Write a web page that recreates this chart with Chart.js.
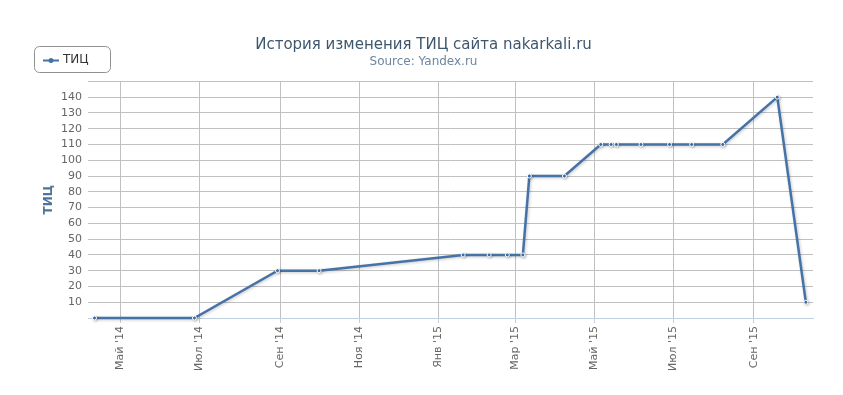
<!DOCTYPE html>
<html>
<head>
<meta charset="utf-8">
<script src="https://cdn.jsdelivr.net/npm/chart.js@4/dist/chart.umd.min.js"></script>
<style>
    body { margin: 0; background: #fff; }
    #wrap { width: 843px; height: 395px; }
</style>
</head>
<body>
<div id="wrap"><canvas id="ticChart" width="843" height="395"></canvas></div>
<script>
// Даты замеров ТИЦ и значения
const pointDates = ['2014-04-11', '2014-06-27', '2014-08-30', '2014-10-01', '2015-01-20',
    '2015-02-09', '2015-02-23', '2015-03-07', '2015-03-12', '2015-04-08', '2015-05-06',
    '2015-05-14', '2015-05-18', '2015-06-06', '2015-06-28', '2015-07-15', '2015-08-08',
    '2015-09-19', '2015-10-11'];
const ticValues = [0, 0, 30, 30, 40, 40, 40, 40, 90, 90, 110, 110, 110, 110, 110, 110, 110, 140, 10];

// Подписи оси X
const xTickDates = ['2014-05-01', '2014-07-01', '2014-09-01', '2014-11-01', '2015-01-01',
    '2015-03-01', '2015-05-01', '2015-07-01', '2015-09-01'];
const xTickLabels = ["Май '14", "Июл '14", "Сен '14", "Ноя '14", "Янв '15",
    "Мар '15", "Май '15", "Июл '15", "Сен '15"];
const xRange = ['2014-04-06T00:00:00Z', '2015-10-16T12:00:00Z'];

const seriesName = 'ТИЦ';
const seriesColor = '#4572A7';

Chart.defaults.font.family = '"DejaVu Sans", Verdana, sans-serif';

const lineShadow = {
    id: 'lineShadow',
    beforeDatasetDraw(chart) {
        const ctx = chart.ctx;
        ctx.save();
        ctx.shadowColor = 'rgba(0, 0, 0, 0.22)';
        ctx.shadowBlur = 3;
        ctx.shadowOffsetX = 1;
        ctx.shadowOffsetY = 1;
    },
    afterDatasetDraw(chart) {
        chart.ctx.restore();
    }
};

// Легенда в рамке слева сверху
const boxLegend = {
    id: 'boxLegend',
    afterDraw(chart) {
        const ctx = chart.ctx;
        const ds = chart.data.datasets[0];
        ctx.save();
        ctx.strokeStyle = '#909090';
        ctx.lineWidth = 1;
        ctx.beginPath();
        ctx.roundRect(34.5, 46.5, 76, 26, 5);
        ctx.stroke();
        ctx.strokeStyle = ds.borderColor;
        ctx.lineWidth = 2;
        ctx.beginPath();
        ctx.moveTo(43, 60.5);
        ctx.lineTo(59, 60.5);
        ctx.stroke();
        ctx.fillStyle = ds.borderColor;
        ctx.beginPath();
        ctx.arc(51, 60.5, 2.5, 0, Math.PI * 2);
        ctx.fill();
        ctx.fillStyle = '#333333';
        ctx.font = '12px "DejaVu Sans", Verdana, sans-serif';
        ctx.textBaseline = 'middle';
        ctx.fillText(ds.label, 63, 60);
        ctx.restore();
    }
};

new Chart(document.getElementById('ticChart'), {
    type: 'line',
    data: {
        datasets: [{
            label: seriesName,
            data: pointDates.map((d, i) => ({ x: Date.parse(d), y: ticValues[i] })),
            borderColor: seriesColor,
            backgroundColor: seriesColor,
            borderWidth: 2.5,
            tension: 0,
            fill: false,
            clip: false,
            pointRadius: 2,
            pointBorderWidth: 1,
            pointBorderColor: '#ffffff',
            pointBackgroundColor: seriesColor
        }]
    },
    options: {
        responsive: false,
        animation: false,
        layout: { padding: { left: 34, right: 30, top: 0, bottom: 0 } },
        plugins: {
            legend: { display: false },
            tooltip: { enabled: false },
            title: {
                display: true,
                text: 'История изменения ТИЦ сайта nakarkali.ru',
                color: '#3E576F',
                font: { size: 15, weight: 'normal', lineHeight: 1.2 },
                padding: { top: 36, bottom: 0 }
            },
            subtitle: {
                display: true,
                text: 'Source: Yandex.ru',
                color: '#6D869F',
                font: { size: 12, lineHeight: 1.2 },
                padding: { top: 1, bottom: 12 }
            }
        },
        scales: {
            x: {
                type: 'linear',
                min: Date.parse(xRange[0]),
                max: Date.parse(xRange[1]),
                afterBuildTicks: scale => {
                    scale.ticks = xTickDates.map(d => ({ value: Date.parse(d) }));
                },
                afterFit: scale => { scale.height = 77; },
                grid: {
                    color: '#C0C0C0',
                    tickColor: '#C0D0E0',
                    tickLength: 5,
                    drawTicks: true
                },
                border: { display: true, color: '#C0D0E0', width: 1 },
                ticks: {
                    autoSkip: false,
                    minRotation: 90,
                    maxRotation: 90,
                    padding: 3,
                    color: '#666666',
                    font: { size: 11 },
                    callback: (value, index) => xTickLabels[index]
                }
            },
            y: {
                min: 0,
                max: 150,
                afterFit: scale => { scale.width = 54; },
                grid: {
                    color: ctx => (ctx.tick && ctx.tick.value === 0 ? 'rgba(0,0,0,0)' : '#C0C0C0'),
                    drawTicks: false
                },
                border: { display: false },
                ticks: {
                    stepSize: 10,
                    autoSkip: false,
                    padding: 6,
                    color: '#666666',
                    font: { size: 11 },
                    callback: value => (value === 0 || value === 150 ? '' : value)
                },
                title: {
                    display: true,
                    text: 'ТИЦ',
                    color: '#4d759e',
                    font: { size: 12, weight: 'bold', lineHeight: 1.2 },
                    padding: { top: 8, bottom: 0 }
                }
            }
        }
    },
    plugins: [lineShadow, boxLegend]
});
</script>
</body>
</html>
